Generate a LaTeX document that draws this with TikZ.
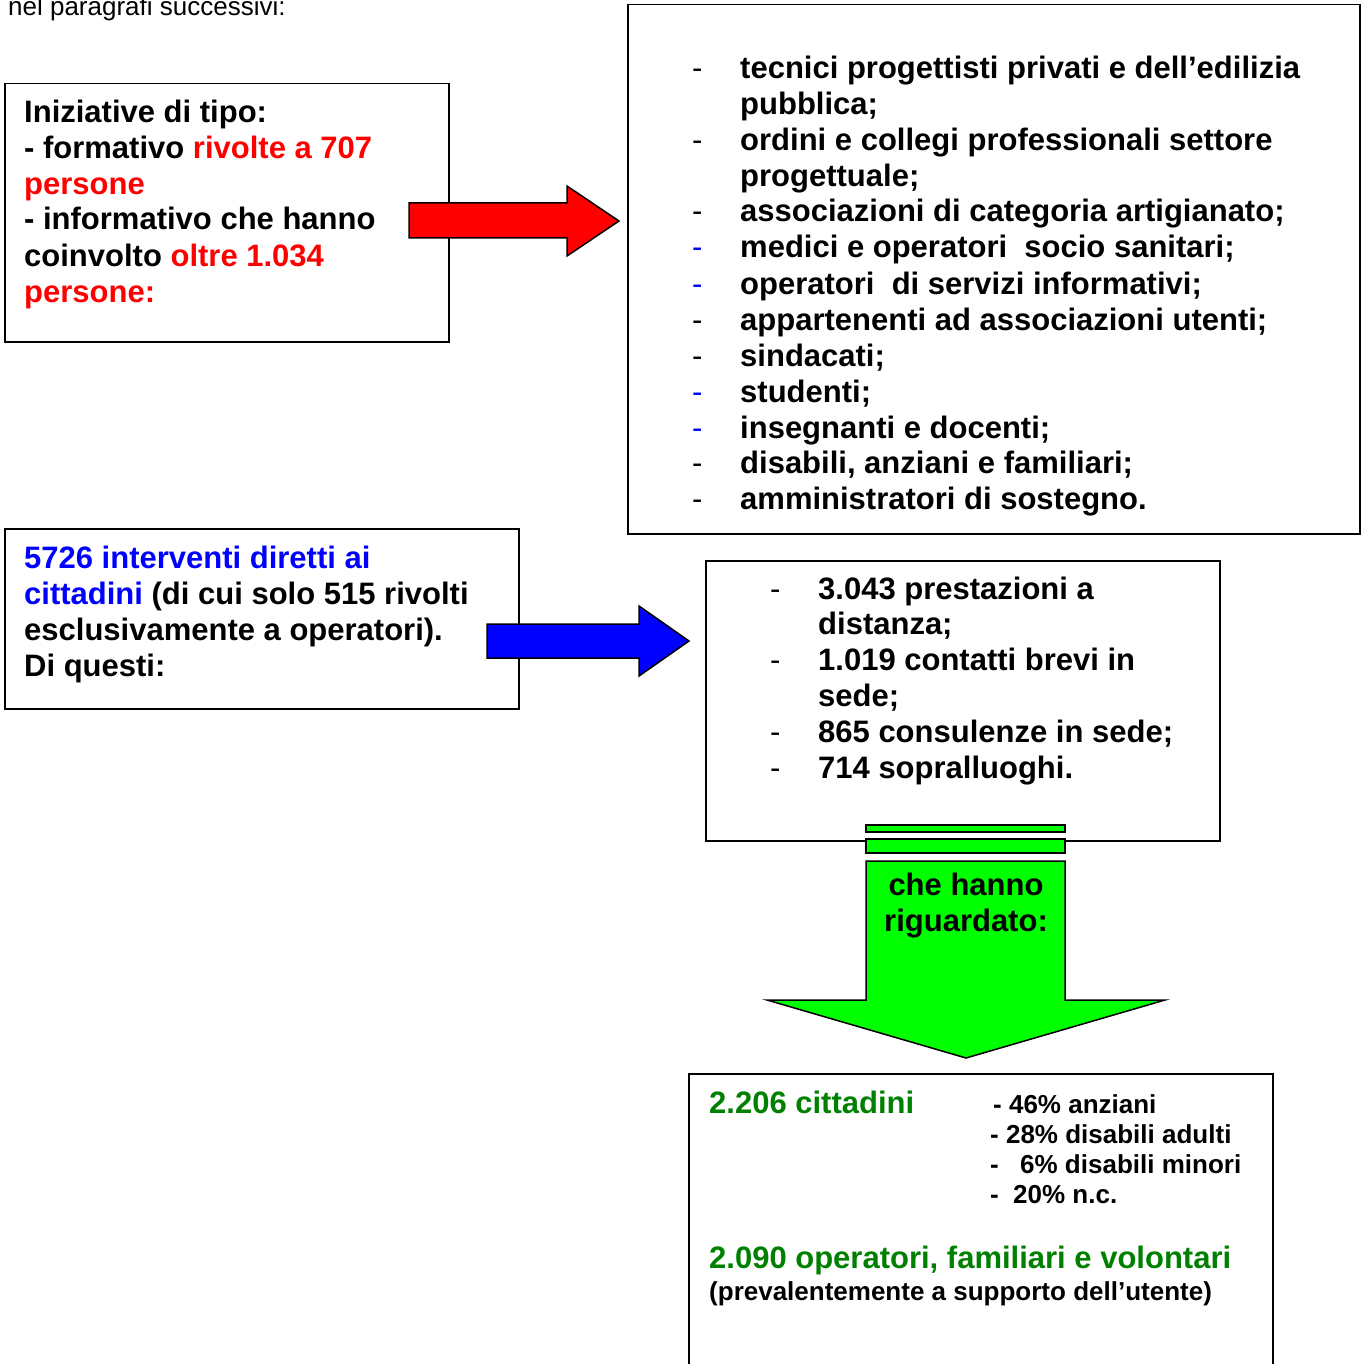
\documentclass[tikz,border=0pt]{standalone}
\usepackage{fontspec}
\setmainfont{Liberation Sans}
\definecolor{tred}{RGB}{255,0,0}
\definecolor{tblue}{RGB}{0,0,255}
\definecolor{tgreen}{RGB}{0,128,0}
\definecolor{agreen}{RGB}{0,255,0}
\tikzset{
  box/.style={draw=black, line width=1.5pt, fill=white, anchor=north west, inner sep=0pt},
  txt/.style={anchor=base west, inner sep=0pt, font=\bfseries\fontsize{31}{36}\selectfont},
  small/.style={anchor=base west, inner sep=0pt, font=\bfseries\fontsize{26}{30}\selectfont},
  dashmark/.style={anchor=base west, inner sep=0pt, font=\fontsize{31}{36}\selectfont},
  blockarrow/.style={draw=black, line width=1.5pt, line join=miter},
}
\begin{document}
\begin{tikzpicture}[x=1pt,y=-1pt]
\useasboundingbox (0,0) rectangle (1361,1364);
% top text
\node[anchor=base west, inner sep=0pt, font=\fontsize{26}{30}\selectfont] (top) at (8,16) {nel paragrafi successivi:};

% boxes
\node[box, minimum width=444pt, minimum height=258pt] (b1) at (4,83) {};
\node[box, minimum width=732pt, minimum height=529pt] (b2) at (627,4) {};
\node[box, minimum width=514pt, minimum height=180pt] (b3) at (4,528) {};
\node[box, minimum width=514pt, minimum height=280pt] (b4) at (705,560) {};
\coordinate (b5a) at (689,1364);
\coordinate (b5b) at (689,1074);
\coordinate (b5c) at (1273,1074);
\coordinate (b5d) at (1273,1364);
\draw[line width=1.5pt] (b5a) -- (b5b) -- (b5c) -- (b5d);

% box 1 text
\node[txt] (l1) at (24,123) {Iniziative di tipo:};
\node[txt] (l2) at (24,159) {- formativo \textcolor{tred}{rivolte a 707}};
\node[txt, text=tred] (l3) at (24,195) {persone};
\node[txt] (l4) at (24,230) {- informativo che hanno};
\node[txt] (l5) at (24,266) {coinvolto \textcolor{tred}{oltre 1.034}};
\node[txt, text=tred] (l6) at (24,302) {persone:};

% right box list
\node[dashmark] (d1) at (692,79) {-};
\node[txt] (r1) at (740,79) {tecnici progettisti privati e dell’edilizia};
\node[txt] (r1b) at (740,115) {pubblica;};
\node[dashmark] (d2) at (692,151) {-};
\node[txt] (r2) at (740,151) {ordini e collegi professionali settore};
\node[txt] (r2b) at (740,187) {progettuale;};
\node[dashmark] (d3) at (692,222) {-};
\node[txt] (r3) at (740,222) {associazioni di categoria artigianato;};
\node[dashmark, text=tblue] (d4) at (692,258) {-};
\node[txt] (r4) at (740,258) {medici e operatori\ \ socio sanitari;};
\node[dashmark, text=tblue] (d5) at (692,294) {-};
\node[txt] (r5) at (740,294) {operatori\ \ di servizi informativi;};
\node[dashmark] (d6) at (692,330) {-};
\node[txt] (r6) at (740,330) {appartenenti ad associazioni utenti;};
\node[dashmark] (d7) at (692,366) {-};
\node[txt] (r7) at (740,366) {sindacati;};
\node[dashmark, text=tblue] (d8) at (692,402) {-};
\node[txt] (r8) at (740,402) {studenti;};
\node[dashmark, text=tblue] (d9) at (692,438) {-};
\node[txt] (r9) at (740,438) {insegnanti e docenti;};
\node[dashmark] (d10) at (692,473) {-};
\node[txt] (r10) at (740,473) {disabili, anziani e familiari;};
\node[dashmark] (d11) at (692,509) {-};
\node[txt] (r11) at (740,509) {amministratori di sostegno.};

% box 3 text
\node[txt] (m1) at (24,568) {\textcolor{tblue}{5726 interventi diretti ai}};
\node[txt] (m2) at (24,604) {\textcolor{tblue}{cittadini} (di cui solo 515 rivolti};
\node[txt] (m3) at (24,640) {esclusivamente a operatori).};
\node[txt] (m4) at (24,676) {Di questi:};

% box 4 list
\node[dashmark] (e1) at (770,599) {-};
\node[txt] (s1) at (818,599) {3.043 prestazioni a};
\node[txt] (s1b) at (818,634) {distanza;};
\node[dashmark] (e2) at (770,670) {-};
\node[txt] (s2) at (818,670) {1.019 contatti brevi in};
\node[txt] (s2b) at (818,706) {sede;};
\node[dashmark] (e3) at (770,742) {-};
\node[txt] (s3) at (818,742) {865 consulenze in sede;};
\node[dashmark] (e4) at (770,778) {-};
\node[txt] (s4) at (818,778) {714 sopralluoghi.};

% red arrow
\draw[blockarrow, fill=tred] (409,203) -- (567,203) -- (567,186) -- (619,221) -- (567,256) -- (567,238) -- (409,238) -- cycle;
% blue arrow
\draw[blockarrow, fill=tblue] (487,624) -- (639,624) -- (639,606) -- (689,641) -- (639,676) -- (639,658) -- (487,658) -- cycle;

% green arrow
\draw[blockarrow, fill=agreen] (866,825) rectangle (1065,832);
\draw[blockarrow, fill=agreen] (866,839) rectangle (1065,853);
\draw[blockarrow, fill=agreen] (866,861) -- (1065,861) -- (1065,1000) -- (1165,1000) -- (966,1058) -- (767,1000) -- (866,1000) -- cycle;
\node[anchor=base, inner sep=0pt, font=\bfseries\fontsize{31}{36}\selectfont] (g1) at (966,895) {che hanno};
\node[anchor=base, inner sep=0pt, font=\bfseries\fontsize{31}{36}\selectfont] (g2) at (966,931) {riguardato:};

% bottom box text
\node[txt, text=tgreen] (c1) at (709,1113) {2.206 cittadini};
\node[small] (p1) at (993,1113) {- 46\% anziani};
\node[small] (p2) at (990,1143) {- 28\% disabili adulti};
\node[small] (p3d) at (990,1173) {-};
\node[small] (p3) at (1020,1173) {6\% disabili minori};
\node[small] (p4d) at (990,1203) {-};
\node[small] (p4) at (1013,1203) {20\% n.c.};
\node[txt, text=tgreen] (c2) at (709,1268) {2.090 operatori, familiari e volontari};
\node[small] (c3) at (709,1300) {(prevalentemente a supporto dell’utente)};
\end{tikzpicture}
\end{document}
